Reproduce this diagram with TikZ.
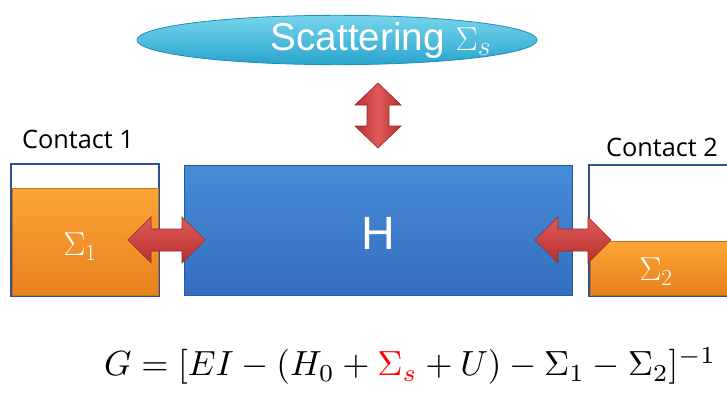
\documentclass[tikz,border=0pt]{standalone}
\usepackage{fontspec}
\setmainfont{Liberation Sans}
\newfontfamily\labelfont{Open Sans}
\usetikzlibrary{shapes.geometric}
\definecolor{boxline}{RGB}{47,82,143}
\definecolor{bluetop}{RGB}{72,140,215}
\definecolor{bluebot}{RGB}{52,110,190}
\definecolor{orangetop}{RGB}{252,165,55}
\definecolor{orangebot}{RGB}{232,128,28}
\definecolor{orangeedge}{RGB}{200,110,30}
\definecolor{redtop}{RGB}{222,90,88}
\definecolor{redbot}{RGB}{185,48,45}
\definecolor{cyantop}{RGB}{120,212,236}
\definecolor{cyanbot}{RGB}{40,165,205}
\definecolor{cyanedge}{RGB}{30,140,180}
\tikzset{
  contactbox/.style={draw=boxline, line width=1.6pt, fill=white},
  orangefill/.style={top color=orangetop, bottom color=orangebot, draw=orangeedge, line width=0.6pt},
  hbox/.style={top color=bluetop, bottom color=bluebot, draw=bluebot!80!black, line width=0.6pt},
  redarrow/.style={top color=redtop, bottom color=redbot, draw=redbot!85!black, line width=0.5pt, line join=miter},
  redvarrow/.style={left color=redbot, right color=redbot, middle color=redtop, draw=redbot!85!black, line width=0.5pt},
  whitetxt/.style={text=white, inner sep=0pt},
  contactlbl/.style={font=\labelfont\fontsize{19}{22}\selectfont, inner sep=0pt},
}
\newcommand\myharrow[4]{% name x1 x2 y
  \path[redarrow] (#2,#4) -- (#2+23,#4-23) -- (#2+23,#4-11) -- (#3-23,#4-11) -- (#3-23,#4-23)
    -- (#3,#4) -- (#3-23,#4+23) -- (#3-23,#4+11) -- (#2+23,#4+11) -- (#2+23,#4+23) -- cycle;
  \coordinate (#1) at ({(#2+#3)/2},#4);}
\newcommand\myvarrow[4]{% name x y1 y2
  \path[redvarrow] (#2,#3) -- (#2+23,#3+22) -- (#2+11,#3+22) -- (#2+11,#4-22) -- (#2+23,#4-22)
    -- (#2,#4) -- (#2-23,#4-22) -- (#2-11,#4-22) -- (#2-11,#3+22) -- (#2-23,#3+22) -- cycle;
  \coordinate (#1) at (#2,{(#3+#4)/2});}
\begin{document}
\begin{tikzpicture}[x=0.75pt,y=-0.75pt]
\useasboundingbox (0,0) rectangle (727,396);
% scattering ellipse
\node[ellipse, minimum width=300pt, minimum height=37pt, inner sep=0pt,
      top color=cyantop, bottom color=cyanbot, draw=cyanedge, line width=0.6pt] (scat) at (337,40) {};
\node[whitetxt, font=\fontsize{29}{34}\selectfont] (scattxt) at (381,41) {Scattering $\Sigma_s$};
% contact 1
\path[contactbox] (11,164) rectangle (159,296);
\path[orangefill] (12,188) rectangle (158,295);
\node[contactlbl] (c1lbl) at (78,139) {Contact 1};
\node[whitetxt, font=\fontsize{24}{28}\selectfont] (sig1) at (80,247) {$\Sigma_1$};
% contact 2
\path[contactbox] (589,165) rectangle (740,296);
\path[orangefill] (590,241) rectangle (740,295);
\node[contactlbl] (c2lbl) at (662,147) {Contact 2};
\node[whitetxt, font=\fontsize{24}{28}\selectfont] (sig2) at (656,272) {$\Sigma_2$};
% H box
\path[hbox] (184,165) rectangle (572,295);
\node[whitetxt, font=\fontsize{35}{40}\selectfont] (h) at (378,233) {H};
% arrows
\myharrow{a1}{128}{205}{240}
\myharrow{a2}{535}{611}{240}
\myvarrow{a3}{378}{83}{148}
% equation
\node[inner sep=0pt] (eq) at (410,366) {\scalebox{2.62}{$G=[EI-(H_0+{\color{red}\Sigma_s}+U)-\Sigma_1-\Sigma_2]^{-1}$}};
\end{tikzpicture}
\end{document}
